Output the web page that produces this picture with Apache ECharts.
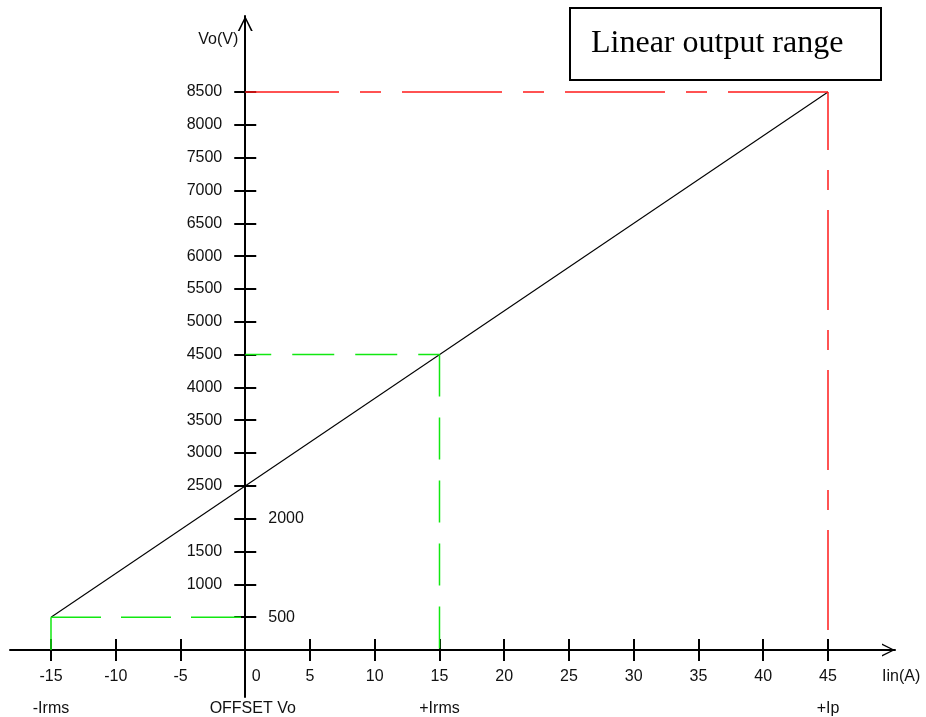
<!DOCTYPE html>
<html><head><meta charset="utf-8">
<script src="https://cdn.jsdelivr.net/npm/echarts@6/dist/echarts.min.js"></script>
<style>html,body{margin:0;padding:0;background:#fff}#main{width:926px;height:717px}</style>
</head><body><div id="main"></div>
<script>
// ---- data ----
const currentIn = [-15, 45];            // Iin(A) at the ends of the linear range
const voltageOut = [500, 8500];         // Vo(V) at the ends of the linear range
const irmsPoint = [15, 4500];           // +Irms -> 4500 V
const negIrmsPoint = [-15, 500];        // -Irms -> 500 V
const ipPoint = [45, 8500];             // +Ip -> 8500 V
const xTickValues = [-15, -10, -5, 5, 10, 15, 20, 25, 30, 35, 40, 45];
const xLabelValues = [-15, -10, -5, 0, 5, 10, 15, 20, 25, 30, 35, 40, 45];
const yTickValues = [500, 1000, 1500, 2000, 2500, 3000, 3500, 4000, 4500, 5000, 5500, 6000, 6500, 7000, 7500, 8000, 8500];
const yLabelsLeft = [1000, 1500, 2500, 3000, 3500, 4000, 4500, 5000, 5500, 6000, 6500, 7000, 7500, 8000, 8500];
const yLabelsRight = [500, 2000];
const markerValues = [-15, 0, 15, 45];
const markerNames = ['-Irms', 'OFFSET Vo', '+Irms', '+Ip'];
const xRange = [-18.166, 50.174];
const yRange = [-716, 9658];

const FONT = 'Liberation Sans';
const TXT = '#111';
const GREEN = '#11e811';
const RED = '#ff1a1a';
const arrow = 'path://M10,0 L20,20 L17.6,20 L10,4.2 L2.4,20 L0,20 Z';

// grid geometry (px) — labels of on-zero axes are offset from the grid edge
const G = {left: 10, right: 31, top: 16, bottom: 20, w: 926, h: 717};
const gx1 = G.left, gx2 = G.w - G.right, gy1 = G.top, gy2 = G.h - G.bottom;
const zeroX = gx1 + (0 - xRange[0]) / (xRange[1] - xRange[0]) * (gx2 - gx1);
const zeroY = gy2 - (0 - yRange[0]) / (yRange[1] - yRange[0]) * (gy2 - gy1);

const chart = echarts.init(document.getElementById('main'), null, {renderer: 'canvas'});
const lbl = {fontFamily: FONT, fontSize: 16, color: TXT};

function line(data, color, width, dash, offset) {
  return {
    type: 'line', data: data, showSymbol: false, symbol: 'none', silent: true,
    xAxisIndex: 0, yAxisIndex: 0, z: 3,
    lineStyle: {color: color, width: width, type: dash || 'solid', dashOffset: offset || 0}
  };
}

chart.setOption({
  animation: false,
  backgroundColor: '#fff',
  title: {
    text: 'Linear output range', left: 570, top: 8,
    padding: [18, 38, 18, 21],
    borderColor: '#000', borderWidth: 2,
    textStyle: {fontFamily: 'Liberation Serif', fontSize: 32, fontWeight: 'normal', color: '#000', lineHeight: 36}
  },
  grid: {left: G.left, right: G.right, top: G.top, bottom: G.bottom, containLabel: false, outerBoundsMode: 'none'},
  xAxis: [{
    type: 'value', position: 'bottom', min: xRange[0], max: xRange[1],
    name: 'Iin(A)', nameLocation: 'end', nameGap: -13,
    nameTextStyle: Object.assign({}, lbl, {align: 'left', verticalAlign: 'top', padding: [19, 0, 0, 0]}),
    axisLine: {onZero: true, lineStyle: {color: '#000', width: 2},
      symbol: ['none', arrow], symbolSize: [18, 13], symbolOffset: [0, -6.5]},
    axisTick: {show: true, customValues: xTickValues, length: 11, lineStyle: {color: '#000', width: 2}},
    axisLabel: Object.assign({}, lbl, {customValues: xLabelValues, margin: 19 - (gy2 - zeroY),
      formatter: v => v === 0 ? '{z|0}' : String(v),
      rich: {z: Object.assign({}, lbl, {padding: [0, 0, 0, 22]})}}),
    splitLine: {show: false}
  }, {
    type: 'value', position: 'top', min: xRange[0], max: xRange[1],
    axisLine: {show: false, onZero: true},
    axisTick: {show: true, customValues: xTickValues, length: 11, lineStyle: {color: '#000', width: 2}},
    axisLabel: Object.assign({}, lbl, {inside: true, customValues: markerValues, margin: 51 + (zeroY - gy1),
      formatter: v => {
        const n = markerNames[markerValues.indexOf(v)];
        return v === 0 ? '{z|' + n + '}' : n;
      },
      rich: {z: Object.assign({}, lbl, {padding: [0, 0, 0, 15]})}}),
    splitLine: {show: false}
  }],
  yAxis: [{
    type: 'value', position: 'left', min: yRange[0], max: yRange[1],
    name: 'Vo(V)', nameLocation: 'end', nameGap: -24,
    nameTextStyle: Object.assign({}, lbl, {align: 'right', verticalAlign: 'middle', padding: [0, 7, 0, 0]}),
    axisLine: {onZero: true, lineStyle: {color: '#000', width: 2},
      symbol: ['none', arrow], symbolSize: [18, 15], symbolOffset: [0, -7.5]},
    axisTick: {show: true, customValues: yTickValues, length: 11, lineStyle: {color: '#000', width: 2}},
    axisLabel: Object.assign({}, lbl, {customValues: yLabelsLeft, margin: 23 - (zeroX - gx1),
      formatter: v => String(v)}),
    splitLine: {show: false}
  }, {
    type: 'value', position: 'right', min: yRange[0], max: yRange[1],
    axisLine: {show: false, onZero: true},
    axisTick: {show: true, customValues: yTickValues, length: 11, lineStyle: {color: '#000', width: 2}},
    axisLabel: Object.assign({}, lbl, {customValues: yLabelsRight, margin: 23 - (gx2 - zeroX),
      formatter: v => String(v)}),
    splitLine: {show: false}
  }],
  series: [
    line([[currentIn[0], voltageOut[0]], [currentIn[1], voltageOut[1]]], '#000', 1.1),
    line([[negIrmsPoint[0], 0], negIrmsPoint], GREEN, 1.5),
    line([negIrmsPoint, [0, negIrmsPoint[1]]], GREEN, 1.5, [50, 20], 0),
    line([[0, irmsPoint[1]], irmsPoint], GREEN, 1.5, [42, 21], 16),
    line([irmsPoint, [irmsPoint[0], 0]], GREEN, 1.5, [42, 21], 0),
    line([ipPoint, [0, ipPoint[1]]], RED, 1.5, [100, 21, 21, 21], 0),
    line([ipPoint, [ipPoint[0], 0]], RED, 1.5, [100, 20, 20, 20], 42)
  ]
});
</script></body></html>
